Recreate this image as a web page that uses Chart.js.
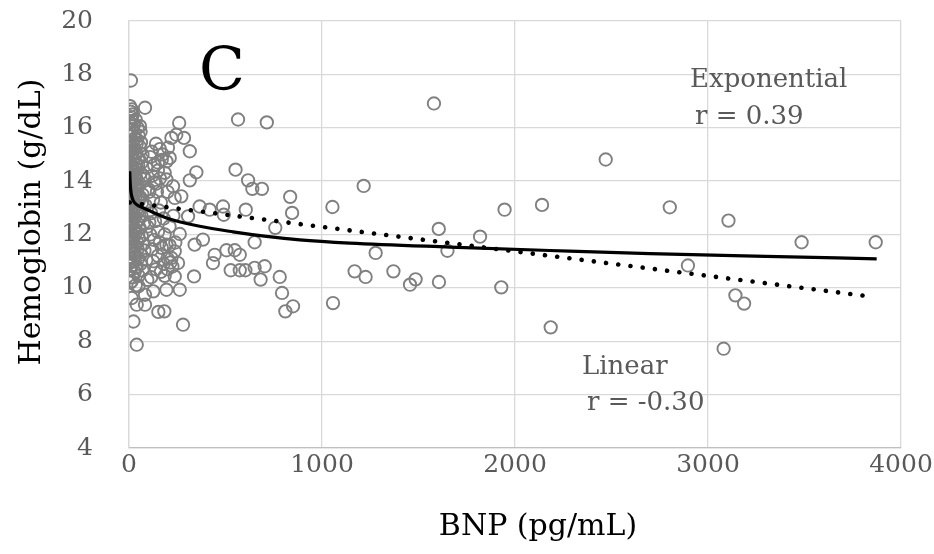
<!DOCTYPE html>
<html>
<head>
<meta charset="utf-8">
<script src="https://cdn.jsdelivr.net/npm/chart.js@4.4.1/dist/chart.umd.min.js"></script>
<style>
  body { margin: 0; background: #fff; }
</style>
</head>
<body>
<canvas id="chart" width="934" height="554"></canvas>
<script>
// tick labels
const xTicks = [0, 1000, 2000, 3000, 4000];
const yTicks = [4, 6, 8, 10, 12, 14, 16, 18, 20];

// BNP (pg/mL), Hemoglobin (g/dL) - the crowded column near zero
const lowBnp = [
    [10, 17.77], [5, 16.81], [14, 16.69], [83, 16.75], [57, 16.06],
    [8, 16.6], [20, 16.5], [12, 16.4], [35, 16.3], [5, 16.2], [25, 16.1], [45, 16.0],
    [15, 15.9], [60, 15.85], [8, 15.7], [30, 15.6], [50, 15.7], [4, 15.5], [20, 15.45],
    [40, 15.4], [10, 15.3], [28, 15.2], [55, 15.3], [3, 15.1], [18, 15.0], [38, 15.05],
    [70, 15.0], [8, 14.9], [25, 14.8], [50, 14.85], [4, 14.7], [15, 14.6], [35, 14.65],
    [65, 14.7], [8, 14.5], [22, 14.4], [45, 14.45], [90, 14.5], [3, 14.3], [15, 14.2],
    [30, 14.25], [60, 14.3], [6, 14.1], [20, 14.0], [40, 14.05], [80, 14.1], [4, 13.9],
    [12, 13.8], [28, 13.85], [55, 13.9], [8, 13.7], [22, 13.6], [42, 13.65], [100, 13.7],
    [3, 13.5], [15, 13.4], [35, 13.45], [70, 13.5], [6, 13.3], [25, 13.2], [50, 13.25],
    [4, 13.1], [14, 13.0], [32, 13.05], [85, 13.1], [8, 12.9], [20, 12.8], [45, 12.85],
    [3, 12.7], [12, 12.6], [30, 12.65], [65, 12.7], [6, 12.5], [18, 12.4], [40, 12.45],
    [4, 12.3], [25, 12.2], [55, 12.25], [95, 12.3], [8, 12.1], [15, 12.0], [35, 12.05],
    [3, 11.9], [20, 11.8], [50, 11.85], [10, 11.7], [30, 11.6], [75, 11.65], [5, 11.5],
    [18, 11.4], [45, 11.45], [12, 11.3], [35, 11.2], [60, 11.25], [6, 11.1], [25, 11.0],
    [90, 11.05], [15, 10.85], [40, 10.8], [5, 10.7], [30, 10.6], [70, 10.65], [20, 10.4],
    [50, 10.45], [8, 10.2], [35, 10.1], [49, 10.06], [14, 10.25], [14, 9.62], [83, 9.74],
    [126, 9.87], [40, 9.37], [83, 9.37], [23, 8.74], [40, 7.87],
    [16, 16.25], [28, 15.8], [42, 15.55], [12, 15.15], [32, 14.95], [48, 14.6], [18, 14.35],
    [36, 14.15], [10, 13.95], [44, 13.8], [30, 13.55], [18, 13.35], [58, 13.4], [10, 13.15],
    [40, 12.95], [26, 12.75], [52, 12.55], [10, 12.35], [32, 12.2], [22, 11.95], [42, 11.7],
    [14, 11.55], [28, 11.3], [48, 11.1], [10, 10.95], [34, 10.75], [62, 15.45], [75, 14.2],
    [68, 13.2], [78, 12.45], [66, 11.95], [80, 11.4], [60, 10.9], [95, 10.3]
];

// 100 - 400 pg/mL
const midBnp = [
    [110, 14.9], [130, 14.6], [150, 14.4], [170, 14.8], [120, 14.2], [140, 13.9], [160, 14.1],
    [185, 14.31], [194, 14.06], [105, 13.6], [125, 13.3], [145, 13.6], [165, 13.2], [200, 13.6],
    [228, 13.81], [271, 13.43], [237, 13.37], [115, 12.8], [135, 12.5], [155, 12.9], [180, 12.6],
    [210, 12.3], [230, 12.7], [110, 12.0], [130, 11.8], [150, 12.1], [170, 11.5], [185, 12.0],
    [194, 11.62], [220, 11.12], [237, 11.37], [254, 10.93], [210, 11.6], [240, 11.7], [200, 11.1],
    [180, 10.9], [150, 11.2], [125, 11.0], [140, 10.7], [165, 10.6], [115, 10.4], [200, 10.7],
    [225, 10.8], [185, 10.45], [237, 10.43], [263, 9.93], [194, 9.93], [152, 9.1], [183, 9.12],
    [280, 8.62], [140, 15.4], [160, 15.2], [175, 15.0], [150, 14.7], [202, 15.25], [211, 14.87],
    [194, 14.74], [220, 15.62], [245, 15.74], [285, 15.62], [315, 15.12], [260, 16.18],
    [349, 14.33], [315, 14.03], [306, 12.68], [263, 12.02], [383, 11.81], [340, 11.62], [337, 10.43],
    [120, 11.45], [160, 11.7], [215, 10.95], [105, 12.45], [130, 13.95], [118, 15.1]
];

// above 400 pg/mL
const highBnp = [
    [565, 16.31], [714, 16.2], [552, 14.43], [617, 14.03], [639, 13.71], [689, 13.71],
    [835, 13.41], [845, 12.81], [758, 12.25], [1054, 13.03], [487, 13.05], [491, 12.74],
    [605, 12.93], [366, 13.05], [418, 12.93], [651, 11.71], [444, 11.24], [435, 10.93],
    [505, 11.41], [548, 11.41], [574, 11.24], [527, 10.66], [574, 10.66], [603, 10.66],
    [651, 10.75], [703, 10.81], [682, 10.31], [781, 10.41], [793, 9.81], [810, 9.12],
    [850, 9.31], [1057, 9.43],
    [1580, 16.91], [2470, 14.81], [1216, 13.82], [1169, 10.62], [1226, 10.41], [1278, 11.31],
    [1370, 10.62], [1456, 10.12], [1485, 10.32], [1605, 12.21], [1650, 11.39], [1606, 10.22],
    [1819, 11.92], [1946, 12.93], [1929, 10.02], [2140, 13.11], [2185, 8.52], [2802, 13.02],
    [3106, 12.52], [3485, 11.71], [3869, 11.71], [2896, 10.84], [3142, 9.72], [3187, 9.41],
    [3081, 7.72]
];

// trend lines
const expTrend = [
    [3.6, 14.37], [6, 13.95], [10, 13.6], [20, 13.3], [40, 13.12], [73, 13.0], [194, 12.62],
    [366, 12.31], [539, 12.1], [712, 11.93], [884, 11.8], [1144, 11.68], [1662, 11.53],
    [2180, 11.4], [2698, 11.28], [3300, 11.18], [3874, 11.09]
];
const linTrend = [[4, 13.2], [3860, 9.66]];

const toXY = arr => arr.map(p => ({ x: p[0], y: p[1] }));

const GRAY_TEXT = '#595959';
const FONT = '"DejaVu Serif", serif';

const textPlugin = {
    id: 'texts',
    afterDraw(chart) {
        const ctx = chart.ctx;
        ctx.save();
        ctx.textBaseline = 'middle';

        ctx.fillStyle = '#000';
        ctx.textAlign = 'center';
        ctx.font = '60px ' + FONT;
        ctx.fillText('C', 222, 74);

        ctx.font = '30px ' + FONT;
        ctx.fillText('BNP (pg/mL)', 538, 527);
        ctx.save();
        ctx.translate(32, 222);
        ctx.rotate(-Math.PI / 2);
        ctx.fillText('Hemoglobin (g/dL)', 0, 0);
        ctx.restore();

        ctx.fillStyle = GRAY_TEXT;
        ctx.textAlign = 'left';
        ctx.font = '26px ' + FONT;
        ctx.fillText('Exponential', 690, 80);
        ctx.fillText('r = 0.39', 695, 117);
        ctx.fillText('Linear', 582, 367);
        ctx.fillText('r = -0.30', 587, 403);
        ctx.restore();
    }
};

Chart.defaults.font.family = FONT;

const chart = new Chart(document.getElementById('chart'), {
    type: 'scatter',
    data: {
        datasets: [
            {
                label: 'Exponential',
                data: toXY(expTrend),
                showLine: true,
                pointRadius: 0,
                borderColor: '#000',
                borderWidth: 3.2,
                cubicInterpolationMode: 'monotone',
                order: 0
            },
            {
                label: 'Linear',
                data: toXY(linTrend),
                showLine: true,
                pointRadius: 0,
                borderColor: '#000',
                borderWidth: 4.6,
                borderDash: [0.01, 12.3],
                borderCapStyle: 'round',
                order: 0
            },
            {
                label: 'Hemoglobin',
                data: toXY(lowBnp.concat(midBnp, highBnp)),
                pointRadius: 6.2,
                pointHoverRadius: 6.2,
                pointBorderWidth: 1.9,
                pointBorderColor: '#808080',
                pointBackgroundColor: 'rgba(0,0,0,0)',
                order: 1
            }
        ]
    },
    options: {
        responsive: false,
        devicePixelRatio: 1,
        animation: false,
        layout: { padding: { top: 21, right: 33, left: 0, bottom: 0 } },
        plugins: {
            legend: { display: false },
            tooltip: { enabled: false }
        },
        scales: {
            x: {
                type: 'linear',
                min: 0,
                max: 4000,
                afterBuildTicks: scale => { scale.ticks = xTicks.map(v => ({ value: v })); },
                afterFit: scale => {
                    scale.height = 106;
                    scale.paddingLeft = 0;
                    scale.paddingRight = 0;
                },
                ticks: { color: GRAY_TEXT, font: { size: 25 }, padding: 2, callback: v => String(v) },
                grid: { color: '#d9d9d9', lineWidth: 1.3, drawTicks: false },
                border: { color: '#bfbfbf', width: 1.3 }
            },
            y: {
                type: 'linear',
                min: 4,
                max: 20,
                afterBuildTicks: scale => { scale.ticks = yTicks.map(v => ({ value: v })); },
                afterFit: scale => {
                    scale.width = 129;
                    scale.paddingTop = 0;
                    scale.paddingBottom = 0;
                },
                ticks: { color: GRAY_TEXT, font: { size: 25 }, padding: 36, callback: v => String(v) },
                grid: { color: '#d9d9d9', lineWidth: 1.3, drawTicks: false },
                border: { color: '#d9d9d9', width: 1.3 }
            }
        }
    },
    plugins: [textPlugin]
});
</script>
</body>
</html>
